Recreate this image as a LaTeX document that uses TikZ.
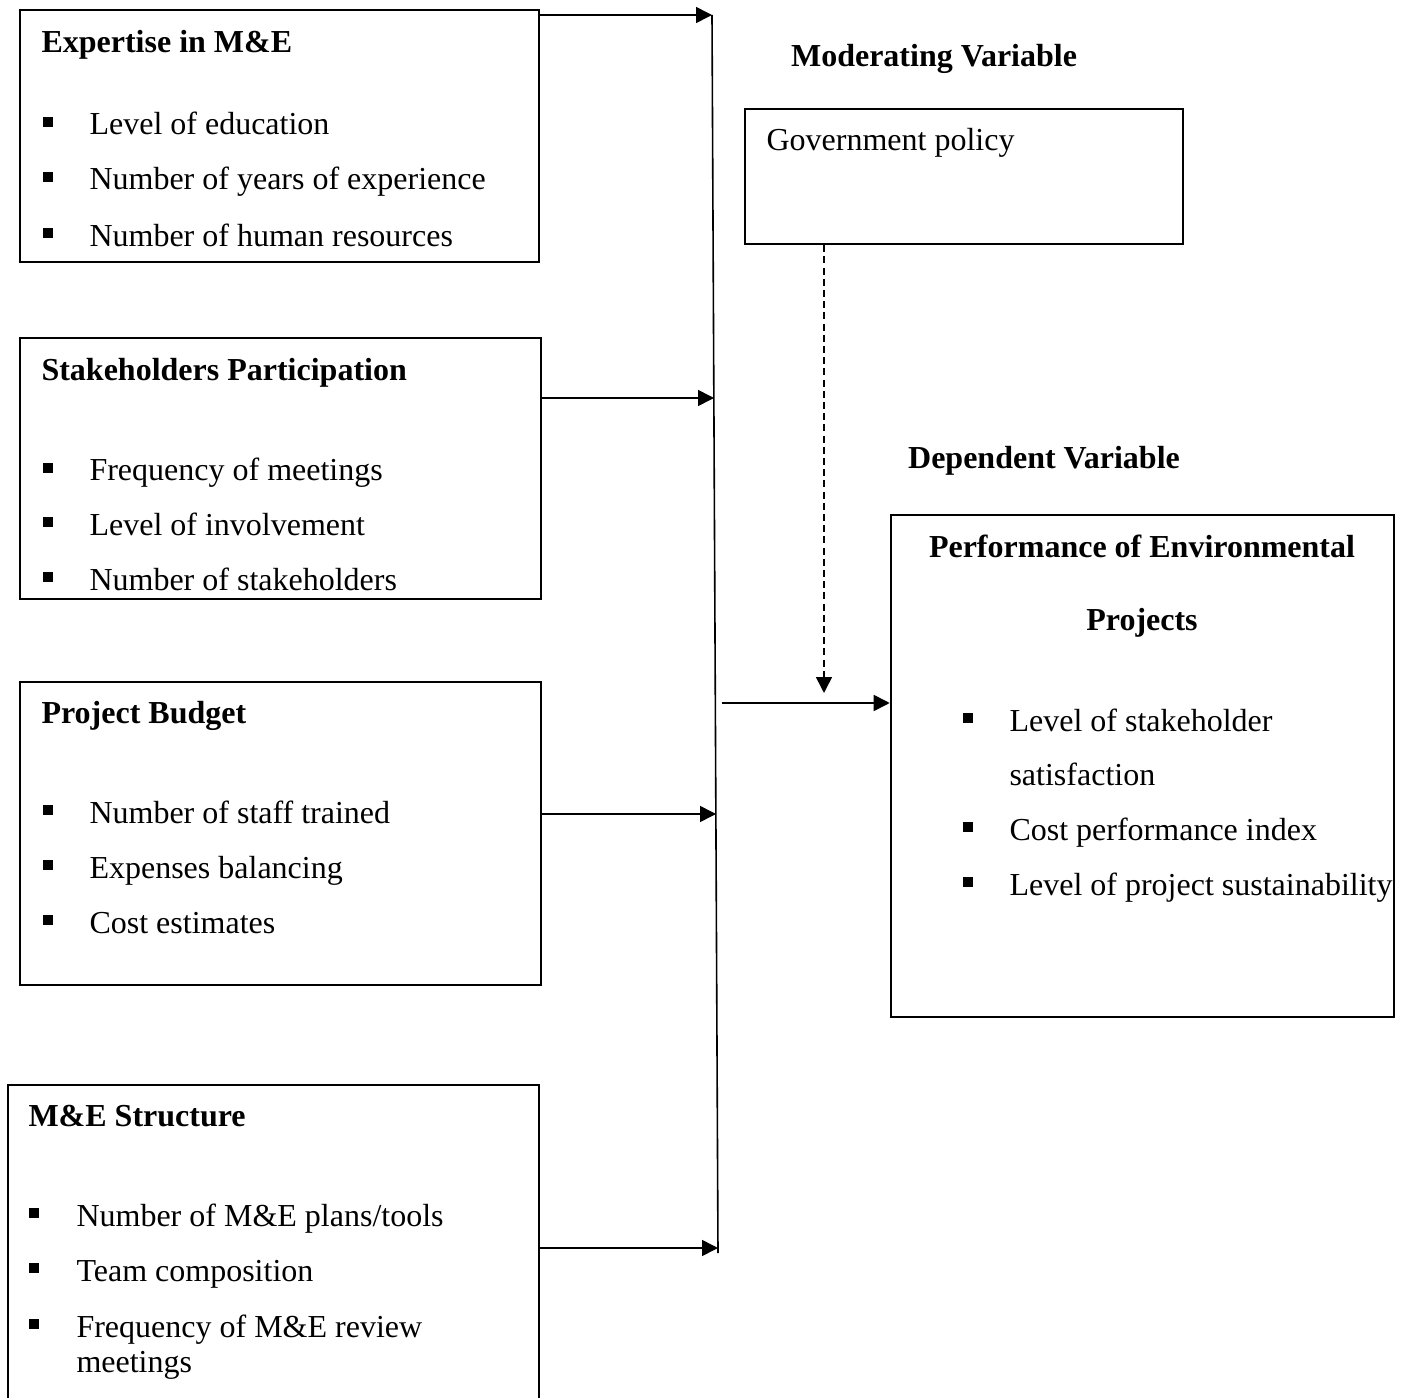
\documentclass[tikz,border=0pt]{standalone}
\usepackage{fontspec}
\setmainfont{Liberation Serif}
\usetikzlibrary{calc,fit,arrows.meta}

\tikzset{
	box/.style={draw, line width=0.95pt, inner sep=0pt},
	item/.style={anchor=base west, inner sep=0pt, font=\fontsize{12}{14}\selectfont},
	head/.style={anchor=base west, inner sep=0pt, font=\fontsize{12}{14}\selectfont\bfseries},
	bul/.style={fill, inner sep=0pt, minimum size=3.4pt},
	feed/.style={-{Triangle[length=6pt,width=6pt]}, line width=0.6pt},
}

\begin{document}
\begin{tikzpicture}[x=0.375pt,y=-0.375pt]
		\useasboundingbox (0,0) rectangle (1405,1398);
		
		% independent variables
		\node (b1) [box, fit={(20,10) (539,262)}] {};
		\node (h1) at (41,53) [head] {Expertise in M\&E};
		\foreach \y/\t [count=\i] in {135/Level of education, 190/Number of years of experience, 246/Number of human resources} {
			\node (q1\i) at (48,\y-13) [bul] {};
			\node (t1\i) at (89,\y) [item] {\t};
		}
		
		\node (b2) [box, fit={(20,338) (541,599)}] {};
		\node (h2) at (41,381) [head] {Stakeholders Participation};
		\foreach \y/\t [count=\i] in {481/Frequency of meetings, 535/Level of involvement, 590/Number of stakeholders} {
			\node (q2\i) at (48,\y-13) [bul] {};
			\node (t2\i) at (89,\y) [item] {\t};
		}
		
		\node (b3) [box, fit={(20,682) (541,985)}] {};
		\node (h3) at (41,723) [head] {Project Budget};
		\foreach \y/\t [count=\i] in {823/Number of staff trained, 878/Expenses balancing, 933/Cost estimates} {
			\node (q3\i) at (48,\y-13) [bul] {};
			\node (t3\i) at (89,\y) [item] {\t};
		}
		
		\node (b4) [box, fit={(8,1085) (539,1404)}] {};
		\node (h4) at (28,1126) [head] {M\&E Structure};
		\foreach \y/\t [count=\i] in {1226/{Number of M\&E plans/tools}, 1281/Team composition, 1337/Frequency of M\&E review} {
			\node (q4\i) at (34,\y-13) [bul] {};
			\node (t4\i) at (76,\y) [item] {\t};
		}
		\node (t44) at (76,1372) [item] {meetings};
		
		% moderating variable
		\node (mv) at (934,67) [head, anchor=base] {Moderating Variable};
		\node (gov) [box, fit={(745,109) (1183,244)}] {};
		\node (gt) at (766,151) [item] {Government policy};
		
		% dependent variable
		\node (dv) at (1044,468) [head, anchor=base] {Dependent Variable};
		\node (pf) [box, fit={(891,515) (1394,1017)}] {};
		\node (pt1) at (1142,557) [head, anchor=base] {Performance of Environmental};
		\node (pt2) at (1142,630) [head, anchor=base] {Projects};
		\foreach \y/\t [count=\i] in {731/Level of stakeholder, 840/Cost performance index, 895/Level of project sustainability} {
			\node (q5\i) at (968,\y-13) [bul] {};
			\node (t5\i) at (1009,\y) [item] {\t};
		}
		\node (t54) at (1009,785) [item] {satisfaction};
		
		% bus line and arrows
		\coordinate (bt) at (712,15);
		\coordinate (bb) at (718,1253);
		\draw[line width=0.6pt] (bt) -- (bb);
		\coordinate (j1) at (712,15);
		\coordinate (j2) at (714,398);
		\coordinate (j3) at (716,814);
		\coordinate (j4) at (718,1248);
		\foreach \x in {1, 2, 3, 4} {
			\draw[feed] (b\x.east |- j\x) -- (j\x);
		}
		\coordinate (jo) at (722,703);
		\draw[feed] (jo) -- (pf.west |- jo);
		\coordinate (dt) at (824,693);
		\draw[feed, dash pattern=on 2.6pt off 1.6pt] (gov.south -| dt) -- (dt);
		
	\end{tikzpicture}
\end{document}
